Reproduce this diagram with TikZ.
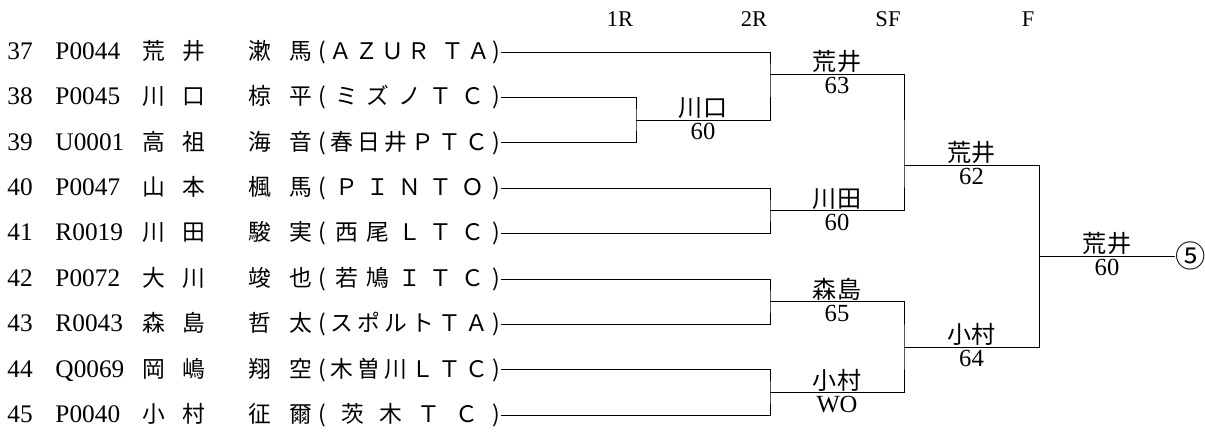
\documentclass[tikz,border=0pt]{standalone}
\usepackage{fontspec}
\setmainfont{Liberation Serif}
\newfontfamily\cjk{Noto Sans CJK JP}[Scale=0.9]
\newcommand\club[1]{{\cjk\makebox[4.55cm][s]{(\foreach \ch in {#1}{\hfill\ch}\hfill)}}}
\newcommand\entry[7]{\makebox[1.2cm][l]{#1}\makebox[2.175cm][l]{#2}\makebox[1cm][l]{\cjk #3}\makebox[1.65cm][l]{\cjk #4}\makebox[1.025cm][l]{\cjk #5}\makebox[0.725cm][l]{\cjk #6}\club{#7}}
\begin{document}
\begin{tikzpicture}[x=0.025cm,y=-0.025cm,line width=0.7pt,
  font=\fontsize{18}{20}\selectfont,
  row/.style={anchor=west,inner sep=0pt},
  head/.style={font=\fontsize{16}{18}\selectfont},
  win/.style={above,inner sep=0.5pt,font=\cjk\fontsize{19}{20}\selectfont},
  score/.style={below,inner sep=2pt,font=\fontsize{17.5}{19}\selectfont}]
\useasboundingbox (0,0) rectangle (1205,432);

\node[head] (h1) at (620,19) {1R};
\node[head] (h2) at (754,19) {2R};
\node[head] (h3) at (888,19) {SF};
\node[head] (h4) at (1028,19) {F};

\node[row] (p37) at (7,52) {\entry{37}{P0044}{荒}{井}{漱}{馬}{Ａ,Ｚ,Ｕ,Ｒ,{\ },Ｔ,Ａ}};
\node[row] (p38) at (7,97.4) {\entry{38}{P0045}{川}{口}{椋}{平}{ミ,ズ,ノ,Ｔ,Ｃ}};
\node[row] (p39) at (7,142.8) {\entry{39}{U0001}{高}{祖}{海}{音}{春,日,井,Ｐ,Ｔ,Ｃ}};
\node[row] (p40) at (7,188.2) {\entry{40}{P0047}{山}{本}{楓}{馬}{Ｐ,Ｉ,Ｎ,Ｔ,Ｏ}};
\node[row] (p41) at (7,233.6) {\entry{41}{R0019}{川}{田}{駿}{実}{西,尾,Ｌ,Ｔ,Ｃ}};
\node[row] (p42) at (7,279) {\entry{42}{P0072}{大}{川}{竣}{也}{若,鳩,Ｉ,Ｔ,Ｃ}};
\node[row] (p43) at (7,324.4) {\entry{43}{R0043}{森}{島}{哲}{太}{ス,ポ,ル,ト,Ｔ,Ａ}};
\node[row] (p44) at (7,369.8) {\entry{44}{Q0069}{岡}{嶋}{翔}{空}{木,曽,川,Ｌ,Ｔ,Ｃ}};
\node[row] (p45) at (7,415.2) {\entry{45}{P0040}{小}{村}{征}{爾}{茨,木,Ｔ,Ｃ}};

\coordinate (r1) at (636,120);
\coordinate (r2a) at (770,74);
\coordinate (r2b) at (770,210.5);
\coordinate (r2c) at (770,301.5);
\coordinate (r2d) at (770,392.5);
\coordinate (r3a) at (904,165);
\coordinate (r3b) at (904,347);
\coordinate (r4) at (1039,256);
\node[inner sep=0pt,anchor=west,font=\cjk\fontsize{24}{26}\selectfont] (champ) at (1175,256) {⑤};

% 1R
\draw (p38.east) -| (r1) |- (p39.east);
% 2R
\draw (p37.east) -| (r2a) |- (r1);
\draw (p40.east) -| (r2b) |- (p41.east);
\draw (p42.east) -| (r2c) |- (p43.east);
\draw (p44.east) -| (r2d) |- (p45.east);
% SF
\draw (r2a) -| (r3a) |- (r2b);
\draw (r2c) -| (r3b) |- (r2d);
% F
\draw (r3a) -| (r4) |- (r3b);
\draw (r4) -- (champ.west);

\path (r1) -- (r1 -| r2a) node[win,midway] (n1) {川口} node[score,midway] (s1) {60};
\path (r2a) -- (r2a -| r3a) node[win,midway] (n2a) {荒井} node[score,midway] (s2a) {63};
\path (r2b) -- (r2b -| r3a) node[win,midway] (n2b) {川田} node[score,midway] (s2b) {60};
\path (r2c) -- (r2c -| r3b) node[win,midway] (n2c) {森島} node[score,midway] (s2c) {65};
\path (r2d) -- (r2d -| r3b) node[win,midway] (n2d) {小村} node[score,midway] (s2d) {WO};
\path (r3a) -- (r3a -| r4) node[win,midway] (n3a) {荒井} node[score,midway] (s3a) {62};
\path (r3b) -- (r3b -| r4) node[win,midway] (n3b) {小村} node[score,midway] (s3b) {64};
\path (r4) -- (champ.west) node[win,midway] (n4) {荒井} node[score,midway] (s4) {60};

\end{tikzpicture}
\end{document}
